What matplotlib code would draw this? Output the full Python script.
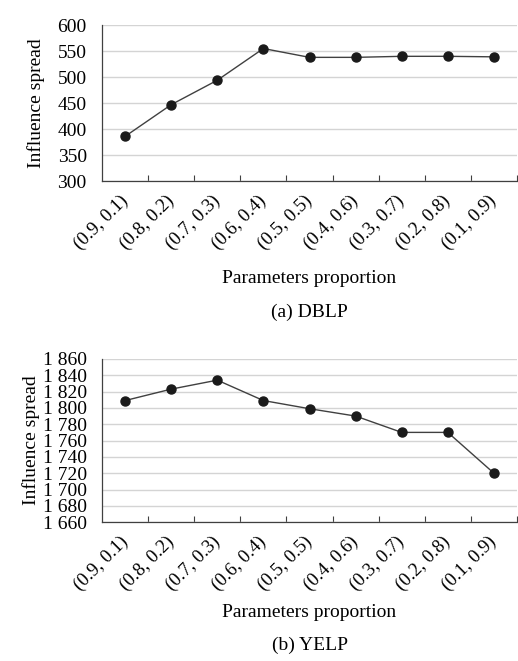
import matplotlib.pyplot as plt
import numpy as np

plt.rcParams['font.family'] = ['Liberation Serif', 'DejaVu Serif']

proportions = ['(0.9, 0.1)', '(0.8, 0.2)', '(0.7, 0.3)', '(0.6, 0.4)', '(0.5, 0.5)',
               '(0.4, 0.6)', '(0.3, 0.7)', '(0.2, 0.8)', '(0.1, 0.9)']
dblp_spread = [386, 447, 494, 555, 538, 538, 540, 540, 539]
yelp_spread = [1809, 1823, 1834, 1809, 1799, 1790, 1770, 1770, 1720]

fig = plt.figure(figsize=(5.18, 6.61), dpi=100)
ax1 = fig.add_axes([0.197, 0.726, 0.801, 0.236])
ax2 = fig.add_axes([0.197, 0.210, 0.801, 0.247])


def style_axis(ax, values, yticks, ylabels, caption, xl_y, cap_y, yl_x):
    x = np.arange(len(proportions))
    ax.plot(x, values, color='#404040', linewidth=1.0, marker='o',
            markersize=6.5, markerfacecolor='#1a1a1a', markeredgecolor='#1a1a1a',
            zorder=3)
    ax.set_xlim(-0.5, len(proportions) - 0.5)
    ax.set_ylim(yticks[0], yticks[-1])
    ax.set_yticks(yticks)
    ax.set_yticklabels(ylabels, fontsize=14)
    ax.set_xticks(x)
    ax.set_xticklabels(proportions, rotation=45, ha='right', va='center',
                       rotation_mode='anchor', fontsize=13.5)
    ax.set_xticks(np.arange(0.5, len(proportions), 1), minor=True)
    ax.tick_params(axis='x', which='major', length=0, pad=12)
    ax.tick_params(axis='x', which='minor', direction='in', length=4,
                   color='#404040', width=0.8)
    ax.tick_params(axis='y', length=0, pad=11)
    ax.grid(axis='y', color='#d4d4d4', linewidth=1.0)
    ax.set_axisbelow(True)
    for s in ['top', 'right']:
        ax.spines[s].set_visible(False)
    for s in ['left', 'bottom']:
        ax.spines[s].set_color('#404040')
        ax.spines[s].set_linewidth(0.9)
    ax.set_ylabel('Influence spread', fontsize=14, va='center')
    ax.yaxis.set_label_coords(yl_x, 0.5)
    ax.set_xlabel('Parameters proportion', fontsize=14, va='center')
    ax.xaxis.set_label_coords(0.5, xl_y)
    ax.text(0.5, cap_y, caption, transform=ax.transAxes, ha='center',
            va='center', fontsize=14)


yt1 = list(range(300, 601, 50))
style_axis(ax1, dblp_spread, yt1, [str(v) for v in yt1], '(a) DBLP',
           -0.622, -0.84, -0.16)

yt2 = list(range(1660, 1861, 20))
style_axis(ax2, yelp_spread, yt2, ['1 ' + str(v)[1:] for v in yt2], '(b) YELP',
           -0.552, -0.755, -0.172)

fig.savefig('out.png', dpi=100)
